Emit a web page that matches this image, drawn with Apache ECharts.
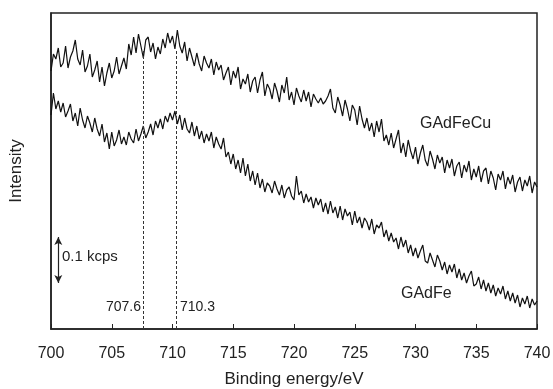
<!DOCTYPE html>
<html>
<head>
<meta charset="utf-8">
<script src="https://cdn.jsdelivr.net/npm/echarts@6/dist/echarts.min.js"></script>
<style>
html,body{margin:0;padding:0;background:#fff;}
#chart{width:553px;height:389px;}
</style>
</head>
<body>
<div id="chart"></div>
<script>
// Binding energy grid (eV): 700.0 to 740.0 in 0.2 eV steps
const eStart = 700, eStep = 0.2;
// Intensity (arbitrary units, 46 a.u. = 0.1 kcps)
const gadfecu = [
258,275,270,281,262, 266,283,261,272,278, 289,270,264,279,257, 263,275,252,259,268,
247,262,243,256,266, 251,258,272,255,263, 271,260,285,274,292, 276,295,283,271,289,
292,277,286,270,282, 275,290,281,296,286, 293,280,299,283,276, 287,268,281,272,263,
276,265,258,273,266, 261,270,254,267,259, 264,249,256,262,244, 258,251,262,240,250,
245,255,237,248,252, 236,249,257,233,245, 240,230,246,238,227, 244,236,252,229,237,
224,241,233,227,239, 228,237,222,235,230, 226,231,225,228,233, 240,221,216,232,224,
213,229,220,208,224, 219,204,223,210,201, 211,198,206,192,208, 197,210,188,194,184,
196,181,190,199,176, 186,172,189,178,170, 182,165,176,184,169, 163,178,170,160,174,
166,172,156,169,161, 170,153,163,167,151, 164,157,168,149,160, 152,163,147,158,161,
145,158,151,139,155, 149,158,140,152,145, 154,137,147,152,138, 149,143,153,136,147,
142];
const gadfe = [
214,236,220,228,217, 226,212,218,225,208, 216,203,221,209,201, 213,206,197,211,200,
193,205,187,196,180, 197,183,189,199,185, 192,184,197,190,186, 200,188,195,203,191,
197,205,194,208,201, 210,200,213,207,216, 209,218,205,214,199, 211,200,196,207,193,
203,190,198,186,195, 188,197,181,192,185, 180,191,172,177,165, 175,160,169,156,171,
153,165,148,158,144, 156,141,150,137,146, 143,136,148,140,134, 144,131,139,142,133,
129,153,134,138,126, 135,127,132,121,131, 124,130,117,126,115, 128,116,122,111,123,
109,120,113,117,104, 118,106,112,101,111, 107,99,110,95,104, 101,107,92,99,88,
96,87,91,80,92, 82,89,76,84,73, 81,71,78,84,68, 66,76,69,62,74,
68,59,67,55,64, 57,65,51,60,49, 56,46,53,58,43, 45,52,40,49,38,
46,36,44,33,41, 35,43,30,38,28, 36,26,34,22,31, 25,33,21,30,24,
28];
const xTicks = [700,705,710,715,720,725,730,735,740];
const peakLines = [707.6, 710.3];
const peakTop = 278;
const scaleBarX = 700.6;
const scaleBar = [46, 92]; // 0.1 kcps
const seriesNames = ['GAdFeCu', 'GAdFe'];

const toPairs = arr => arr.map((v, i) => [+(eStart + i * eStep).toFixed(1), v]);

const chart = echarts.init(document.getElementById('chart'));
const FONT = '"Liberation Sans", Arial, sans-serif';
chart.setOption({
  animation: false,
  backgroundColor: '#fff',
  grid: {left: 51, right: 16, top: 13, bottom: 60, show: true, borderColor: '#222', borderWidth: 1.5,
         containLabel: false, outerBoundsMode: 'none'},
  xAxis: {
    type: 'value', min: 700, max: 740, interval: 5,
    axisLine: {show: true, lineStyle: {color: '#222', width: 1.5}},
    axisTick: {show: true, inside: true, length: 5, lineStyle: {color: '#222', width: 1}},
    axisLabel: {color: '#222', fontSize: 16, fontFamily: FONT, margin: 17},
    splitLine: {show: false},
    name: 'Binding energy/eV', nameLocation: 'middle', nameGap: 42,
    nameTextStyle: {color: '#222', fontSize: 17, fontFamily: FONT}
  },
  yAxis: {
    type: 'value', min: 0, max: 316,
    axisLine: {show: true, lineStyle: {color: '#222', width: 1.5}},
    axisTick: {show: false}, axisLabel: {show: false}, splitLine: {show: false},
    name: 'Intensity', nameLocation: 'middle', nameGap: 26,
    nameTextStyle: {color: '#222', fontSize: 17, fontFamily: FONT}
  },
  series: [
    {name: seriesNames[0], type: 'line', data: toPairs(gadfecu), showSymbol: false,
     lineStyle: {color: '#111', width: 1.2}, z: 3},
    {name: seriesNames[1], type: 'line', data: toPairs(gadfe), showSymbol: false,
     lineStyle: {color: '#111', width: 1.2}, z: 3},
    {type: 'line', data: [], silent: true,
     markLine: {
       silent: true, symbol: ['none', 'none'], animation: false,
       label: {show: false},
       lineStyle: {color: '#333', width: 1, type: [3, 2]},
       data: peakLines.map(p => [{coord: [p, 0]}, {coord: [p, peakTop]}])
     }},
    {type: 'line', data: [], silent: true,
     markLine: {
       silent: true, symbol: ['arrow', 'arrow'], symbolSize: [6, 8], animation: false,
       label: {show: false},
       lineStyle: {color: '#222', width: 1.2, type: 'solid'},
       data: [[{coord: [scaleBarX, scaleBar[0]]}, {coord: [scaleBarX, scaleBar[1]]}]]
     }}
  ],
  graphic: [
    {type: 'text', left: 62, top: 249, style: {text: '0.1 kcps', fontSize: 15, fontFamily: FONT, fill: '#222'}},
    {type: 'text', right: 553 - 141, top: 300, style: {text: '707.6', fontSize: 14, fontFamily: FONT, fill: '#222', textAlign: 'right'}},
    {type: 'text', left: 180, top: 300, style: {text: '710.3', fontSize: 14, fontFamily: FONT, fill: '#222'}},
    {type: 'text', left: 420, top: 116, style: {text: seriesNames[0], fontSize: 16, fontFamily: FONT, fill: '#222'}},
    {type: 'text', left: 401, top: 286, style: {text: seriesNames[1], fontSize: 16, fontFamily: FONT, fill: '#222'}}
  ]
});
</script>
</body>
</html>
